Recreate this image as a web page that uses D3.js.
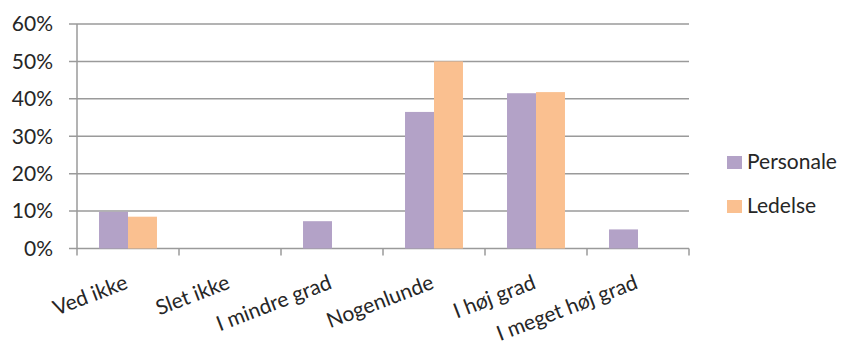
<!DOCTYPE html>
<html>
<head>
<meta charset="utf-8">
<script src="https://cdn.jsdelivr.net/npm/d3@7"></script>
<style>
  html, body { margin: 0; padding: 0; background: #fff; }
  svg { display: block; }
  text { font-family: Lato, "Open Sans", sans-serif; fill: #262626; }
</style>
</head>
<body>
<svg id="chart" width="846" height="351"></svg>
<script>
const categories = ["Ved ikke", "Slet ikke", "I mindre grad", "Nogenlunde", "I høj grad", "I meget høj grad"];
const seriesNames = ["Personale", "Ledelse"];
const personale = [0.098, 0, 0.073, 0.365, 0.415, 0.051];
const ledelse = [0.085, 0, 0, 0.50, 0.418, 0];
const yTicks = [0, 0.1, 0.2, 0.3, 0.4, 0.5, 0.6];
const colors = ["#B3A2C7", "#FAC090"];

const seriesValues = [personale, ledelse];
const svg = d3.select("#chart");
const mLeft = 77, mRight = 689, mTop = 24, mBottom = 248.5;

const x = d3.scaleBand().domain(categories).range([mLeft, mRight]).padding(0);
const xs = d3.scaleBand().domain(seriesNames).range([0, x.bandwidth()])
  .paddingInner(0).paddingOuter(0.76);
const y = d3.scaleLinear().domain([0, 0.6]).range([mBottom, mTop]);

const gridColor = "#9a9a9a";

// gridlines
svg.append("g").selectAll("line").data(yTicks).join("line")
  .attr("x1", mLeft - 8).attr("x2", mRight)
  .attr("y1", d => y(d)).attr("y2", d => y(d))
  .attr("stroke", gridColor).attr("stroke-width", 1.5);

// y axis line
svg.append("line").attr("x1", mLeft).attr("x2", mLeft)
  .attr("y1", mTop).attr("y2", mBottom).attr("stroke", gridColor).attr("stroke-width", 1.5);

// y tick labels
svg.append("g").selectAll("text").data(yTicks).join("text")
  .attr("x", mLeft - 24).attr("y", d => y(d))
  .attr("dy", "0.35em").attr("text-anchor", "end")
  .style("font-size", "21px")
  .text(d => d3.format(".0%")(d));

// x tick marks at category boundaries
const bounds = categories.map(c => x(c)).concat([mRight]);
svg.append("g").selectAll("line").data(bounds).join("line")
  .attr("x1", d => d).attr("x2", d => d)
  .attr("y1", mBottom).attr("y2", mBottom + 7)
  .attr("stroke", gridColor).attr("stroke-width", 1.5);

// bars
seriesNames.forEach((s, si) => {
  svg.append("g").selectAll("rect").data(seriesValues[si]).join("rect")
    .attr("x", (d, i) => x(categories[i]) + xs(s))
    .attr("width", xs.bandwidth())
    .attr("y", d => y(d))
    .attr("height", d => y(0) - y(d))
    .attr("fill", colors[si]);
});

// x labels rotated
svg.append("g").selectAll("text").data(categories).join("text")
  .attr("transform", c => `translate(${x(c) + x.bandwidth() / 2 + 1},288) rotate(-21)`)
  .attr("text-anchor", "end")
  .style("font-size", "21px")
  .text(c => c);

// legend
const lg = svg.append("g");
seriesNames.forEach((s, i) => {
  const ly = 162 + i * 44;
  lg.append("rect").attr("x", 727).attr("y", ly - 6).attr("width", 15).attr("height", 13).attr("fill", colors[i]);
  lg.append("text").attr("x", 747).attr("y", ly).attr("dy", "0.35em")
    .style("font-size", "21px").text(s);
});
</script>
</body>
</html>
